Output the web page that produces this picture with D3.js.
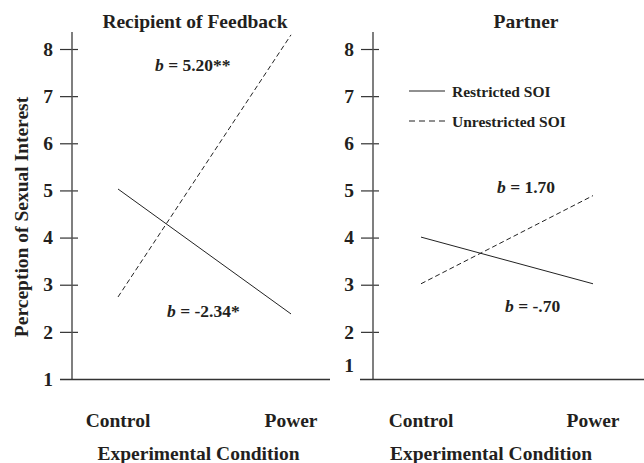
<!DOCTYPE html>
<html><head><meta charset="utf-8">
<script src="https://cdn.jsdelivr.net/npm/d3@7"></script>
<style>
body{margin:0;background:#fff;}
svg text{font-family:"Liberation Serif","Times New Roman",serif;font-weight:bold;fill:#231f20;}
</style></head>
<body><svg id="c" width="644" height="463"></svg>
<script>
const categories = ["Control", "Power"];
const yTicks = [1, 2, 3, 4, 5, 6, 7, 8];
const panels = ["Recipient of Feedback", "Partner"];
const seriesNames = ["Restricted SOI", "Unrestricted SOI"];
// values per panel: [Control, Power]
const recipientRestricted = [5.03, 2.38];
const recipientUnrestricted = [2.74, 8.30];
const partnerRestricted = [4.01, 3.02];
const partnerUnrestricted = [3.02, 4.89];
const slopeLabels = [["b = -2.34*", "b = 5.20**"], ["b = -.70", "b = 1.70"]];
const xAxisTitle = "Experimental Condition";
const yAxisTitle = "Perception of Sexual Interest";

const svg = d3.select("#c");
const y = d3.scaleLinear().domain([1, 8]).range([379, 49]);
const ink = "#231f20", axisCol = "#555";

const layout = [
  {axisX: 72, xr: [118, 291], hx: [60, 330], titleX: 195, tickLabelX: 48, xTitleX: 198.5,
   data: [recipientRestricted, recipientUnrestricted],
   ann: [{x: 167, y: 317}, {x: 155, y: 71}]},
  {axisX: 373, xr: [421, 593], hx: [360, 644], titleX: 526, tickLabelX: 349, xTitleX: 491,
   data: [partnerRestricted, partnerUnrestricted],
   ann: [{x: 505, y: 312}, {x: 497, y: 193}]}
];

layout.forEach((L, pi) => {
  const g = svg.append("g");
  const x = d3.scalePoint().domain(categories).range(L.xr);
  // y axis
  const ax = d3.axisLeft(y).tickValues(yTicks).tickSize(18).tickPadding(0).tickFormat(d3.format("d"));
  const ag = g.append("g").attr("transform", `translate(${L.axisX + 6},0)`).call(ax);
  ag.select(".domain").remove();
  ag.selectAll(".tick line").attr("stroke", "#333").attr("stroke-width", 1.2);
  ag.selectAll(".tick text").attr("x", L.tickLabelX - L.axisX - 6).attr("text-anchor", "middle")
    .attr("dy", "0.32em").style("font-size", "19.5px").attr("fill", ink);
  ag.selectAll(".tick").filter(d => d === 1).select("line").remove();
  if (pi === 1) {
    ag.selectAll(".tick").filter(d => d === 1).select("text").attr("dy", "-0.4em");
  }
  g.append("line").attr("x1", L.axisX).attr("x2", L.axisX).attr("y1", 32).attr("y2", 379)
    .attr("stroke", axisCol).attr("stroke-width", 1.5);
  // x axis line
  g.append("line").attr("x1", L.hx[0]).attr("x2", L.hx[1]).attr("y1", 379.5).attr("y2", 379.5)
    .attr("stroke", "#333").attr("stroke-width", 1.3);
  // category labels
  g.selectAll(".cat").data(categories).enter().append("text")
    .attr("x", d => x(d)).attr("y", 427).attr("text-anchor", "middle")
    .style("font-size", "19.5px").text(d => d);
  g.append("text").attr("x", L.xTitleX).attr("y", 460)
    .attr("text-anchor", "middle").style("font-size", "19.5px").text(xAxisTitle);
  g.append("text").attr("x", L.titleX).attr("y", 28).attr("text-anchor", "middle")
    .style("font-size", "19.5px").text(panels[pi]);
  // lines
  const line = d3.line().x((d, i) => x(categories[i])).y(d => y(d));
  L.data.forEach((vals, si) => {
    g.append("path").datum(vals).attr("d", line).attr("fill", "none")
      .attr("stroke", "#222").attr("stroke-width", 1)
      .attr("stroke-dasharray", si === 1 ? "5,3" : null);
  });
  // annotations
  slopeLabels[pi].forEach((s, si) => {
    const t = g.append("text").attr("x", L.ann[si].x).attr("y", L.ann[si].y).style("font-size", "17.5px");
    t.append("tspan").style("font-style", "italic").text(s.slice(0, 1));
    t.append("tspan").text(s.slice(1));
  });
});

// y axis title
svg.append("text").attr("transform", "translate(28,217) rotate(-90)").attr("text-anchor", "middle")
  .style("font-size", "19.5px").text(yAxisTitle);

// legend
const lg = svg.append("g");
seriesNames.forEach((n, i) => {
  const yy = 91 + i * 30;
  lg.append("line").attr("x1", 409).attr("x2", 445).attr("y1", yy).attr("y2", yy)
    .attr("stroke", "#222").attr("stroke-width", 1.2).attr("stroke-dasharray", i === 1 ? "6,4" : null);
  lg.append("text").attr("x", 452).attr("y", yy + 5.5).style("font-size", "15.5px").text(n);
});
</script></body></html>
